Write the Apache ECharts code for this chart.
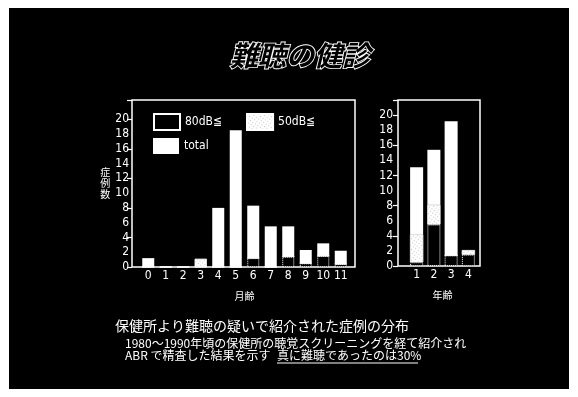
<!DOCTYPE html>
<html>
<head>
<meta charset="utf-8">
<script src="https://cdn.jsdelivr.net/npm/echarts@6/dist/echarts.min.js"></script>
<style>
  html, body { margin: 0; padding: 0; background: #fff; }
  #chart { width: 578px; height: 397px; }
</style>
</head>
<body>
<div id="chart"></div>
<script>
// left panel: age in months
const months = ['0', '1', '2', '3', '4', '5', '6', '7', '8', '9', '10', '11'];
const leftDb80 = [0, 0, 0, 0, 0, 0, 1.2, 0, 1.4, 0.5, 1.5, 0.4];
const leftDb50 = [0, 0, 0, 1.1, 0, 0, 0, 0, 0, 0, 0, 0];
const leftTotal = [1.2, 0, 0, 1.1, 8, 18.5, 8.3, 5.5, 5.5, 2.3, 3.2, 2.2];

// right panel: age in years
const years = ['1', '2', '3', '4'];
const rightDb80 = [0.5, 5.5, 1.4, 1.5];
const rightDb50 = [3.7, 2.6, 0, 0.6];
const rightTotal = [13.1, 15.4, 19.2, 2.1];

const seriesNames = ['80dB≦', '50dB≦', 'total'];

// white part sits on top of the hearing-loss parts
const rest = (total, a, b) => total.map((t, i) => +(t - a[i] - b[i]).toFixed(2));

const narrow = '"Liberation Sans Narrow", "DejaVu Sans Condensed", "Liberation Sans", sans-serif';
const jp = '"Noto Sans CJK JP", sans-serif';

const chart = echarts.init(document.getElementById('chart'));

const frameAxis = (gridIndex) => ({ type: 'value', gridIndex, show: false, min: 0, max: 1 });

const labelAxis = (gridIndex, max, margin) => ({
  type: 'value', gridIndex, min: 0, max, interval: 2, position: 'left',
  axisLine: { show: false },
  axisTick: { show: false },
  splitLine: { show: false },
  axisLabel: {
    color: '#fff', fontSize: 12, fontFamily: narrow, margin,
    formatter: v => (v > 20 ? '' : v)
  }
});

const tickAxis = (gridIndex, max) => ({
  type: 'value', gridIndex, min: 0, max, interval: 4, position: 'left',
  axisLine: { show: false },
  axisTick: { show: true, length: 5, lineStyle: { color: '#fff', width: 1.2 } },
  axisLabel: { show: false },
  splitLine: { show: false }
});

const dataY = (gridIndex, max) => ({ type: 'value', gridIndex, min: 0, max, show: false });

const catAxis = (gridIndex, data, name) => ({
  type: 'category', gridIndex, data,
  axisLine: { show: false },
  axisTick: { show: false },
  axisLabel: { color: '#fff', fontSize: 12, fontFamily: narrow, margin: 3, interval: 0 },
  name, nameLocation: 'middle', nameGap: 24,
  nameTextStyle: { color: '#fff', fontSize: 10, fontFamily: jp }
});

const barStyles = [
  { color: '#000', borderColor: '#fff', borderWidth: 1, borderType: 'dotted' },
  {
    color: '#fff', borderColor: '#fff', borderWidth: 0.5,
    decal: { symbol: 'rect', symbolSize: 0.6, dashArrayX: [1, 2], dashArrayY: [1, 2], color: 'rgba(0,0,0,0.75)', rotation: 0.6 }
  },
  { color: '#fff' }
];

const makeBars = (xi, yi, parts, width) => parts.map((d, k) => ({
  name: seriesNames[k], type: 'bar', stack: 'p' + xi,
  xAxisIndex: xi, yAxisIndex: yi, barWidth: width,
  itemStyle: barStyles[k], data: d, silent: true
}));

const legendText = { color: '#fff', fontSize: 12, fontFamily: narrow };

chart.setOption({
  backgroundColor: '#fff',
  animation: false,
  title: {
    text: '難聴の健診', left: 295, top: 36, textAlign: 'center',
    textStyle: {
      fontFamily: jp, fontSize: 28, fontStyle: 'italic', fontWeight: 'bold',
      color: '#000', textBorderColor: '#fff', textBorderWidth: 1.8
    }
  },
  legend: [
    {
      data: ['80dB≦', '50dB≦'], left: 148, top: 108, itemWidth: 26, itemHeight: 16,
      itemGap: 24, selectedMode: false, icon: 'rect', textStyle: legendText
    },
    {
      data: ['total'], left: 148, top: 133, itemWidth: 26, itemHeight: 16,
      selectedMode: false, icon: 'rect', textStyle: legendText
    }
  ],
  grid: [
    { left: 132, top: 100, width: 223, height: 167, show: true, borderColor: '#fff', borderWidth: 1.5 },
    { left: 139.5, top: 100, width: 210, height: 167 },
    { left: 398, top: 100, width: 82, height: 166, show: true, borderColor: '#fff', borderWidth: 1.5 },
    { left: 408, top: 100, width: 69, height: 166 }
  ],
  xAxis: [
    frameAxis(0),
    catAxis(1, months, '月齢'),
    frameAxis(2),
    catAxis(3, years, '年齢')
  ],
  yAxis: [
    Object.assign(labelAxis(0, 22.6, 3), {
      name: '症\n例\n数', nameLocation: 'middle', nameRotate: 0, nameGap: 18,
      nameTextStyle: { color: '#fff', fontSize: 10, fontFamily: jp, lineHeight: 11 }
    }),
    tickAxis(0, 22.6),
    dataY(1, 22.6),
    labelAxis(2, 22, 5),
    tickAxis(2, 22),
    dataY(3, 22)
  ],
  series: [
    ...makeBars(1, 2, [leftDb80, leftDb50, rest(leftTotal, leftDb80, leftDb50)], 12),
    ...makeBars(3, 5, [rightDb80, rightDb50, rest(rightTotal, rightDb80, rightDb50)], 13)
  ],
  graphic: [
    { type: 'rect', z: -100, shape: { x: 9, y: 8, width: 560, height: 381 }, style: { fill: '#000' } },
    {
      type: 'text', left: 115, top: 319,
      style: { text: '保健所より難聴の疑いで紹介された症例の分布', fill: '#fff', font: '14px ' + jp }
    },
    {
      type: 'text', left: 125, top: 337,
      style: { text: '1980〜1990年頃の保健所の聴覚スクリーニングを経て紹介され', fill: '#fff', font: '12px ' + jp }
    },
    {
      type: 'text', left: 125, top: 349,
      style: { text: 'ABR で精査した結果を示す', fill: '#fff', font: '12px ' + jp }
    },
    {
      type: 'text', left: 277, top: 349,
      style: { text: '真に難聴であったのは30%', fill: '#fff', font: '12px ' + jp }
    },
    { type: 'line', shape: { x1: 277, y1: 363, x2: 418, y2: 363 }, style: { stroke: '#fff', lineWidth: 1 } }
  ]
});
</script>
</body>
</html>
